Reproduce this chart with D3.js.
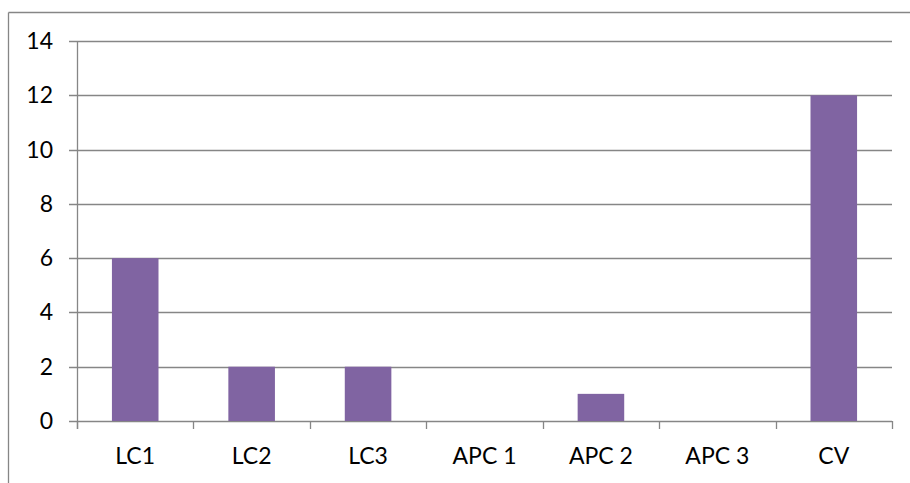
<!DOCTYPE html>
<html>
<head>
<meta charset="utf-8">
<script src="https://cdn.jsdelivr.net/npm/d3@7"></script>
<style>
  body { margin: 0; background: #fff; overflow: hidden; }
  svg { display: block; }
  svg text { font-family: Lato, "Open Sans", sans-serif; font-size: 23px; fill: #000; }
</style>
</head>
<body>
<div id="chart"></div>
<script>
const categories = ["LC1", "LC2", "LC3", "APC 1", "APC 2", "APC 3", "CV"];
const values = [6, 2, 2, 0, 1, 0, 12];
const yTicks = [0, 2, 4, 6, 8, 10, 12, 14];

const width = 910;
const height = 483;
const margin = {top: 41, right: 18, bottom: 62, left: 77};
const gridColor = "#868686";

const svg = d3.select("#chart")
  .append("svg")
  .attr("width", width)
  .attr("height", height);

// outer frame: only top and left edges are visible
svg.append("line")
  .attr("x1", 8.5).attr("x2", width)
  .attr("y1", 12.5).attr("y2", 12.5)
  .attr("stroke", gridColor)
  .attr("stroke-width", 1.3);
svg.append("line")
  .attr("x1", 8.5).attr("x2", 8.5)
  .attr("y1", 12.5).attr("y2", height)
  .attr("stroke", gridColor)
  .attr("stroke-width", 1.3);

const innerWidth = width - margin.left - margin.right;
const innerHeight = height - margin.top - margin.bottom;

const g = svg.append("g")
  .attr("transform", `translate(${margin.left},${margin.top})`);

const x = d3.scaleBand().domain(categories).range([0, innerWidth]).paddingInner(0.6).paddingOuter(0.3);
const xCat = d3.scaleBand().domain(categories).range([0, innerWidth]);
const y = d3.scaleLinear().domain([0, 14]).range([innerHeight, 0]);

// gridlines + y ticks
g.selectAll(".grid")
  .data(yTicks)
  .enter().append("line")
  .attr("x1", -8)
  .attr("x2", innerWidth)
  .attr("y1", d => Math.round(y(d)) + 0.5)
  .attr("y2", d => Math.round(y(d)) + 0.5)
  .attr("stroke", gridColor)
  .attr("stroke-width", 1.3);

g.selectAll(".ylabel")
  .data(yTicks)
  .enter().append("text")
  .attr("x", -24)
  .attr("y", d => y(d) + 8)
  .attr("text-anchor", "end")
  .text(d => d);

// bars
g.selectAll(".bar")
  .data(values)
  .enter().append("rect")
  .attr("x", (d, i) => x(categories[i]))
  .attr("width", x.bandwidth())
  .attr("y", d => y(d))
  .attr("height", d => y(0) - y(d))
  .attr("fill", "#8064A2");

// y axis line
g.append("line")
  .attr("x1", 0.5).attr("x2", 0.5)
  .attr("y1", 0).attr("y2", innerHeight + 8)
  .attr("stroke", gridColor)
  .attr("stroke-width", 1.3);

// x ticks at category boundaries
const bounds = categories.map(c => xCat(c)).concat([innerWidth]);
g.selectAll(".xtick")
  .data(bounds)
  .enter().append("line")
  .attr("x1", d => Math.round(d) + 0.5)
  .attr("x2", d => Math.round(d) + 0.5)
  .attr("y1", innerHeight)
  .attr("y2", innerHeight + 8)
  .attr("stroke", gridColor)
  .attr("stroke-width", 1.3);

g.selectAll(".xlabel")
  .data(categories)
  .enter().append("text")
  .attr("x", d => xCat(d) + xCat.bandwidth() / 2)
  .attr("y", innerHeight + 43)
  .attr("text-anchor", "middle")
  .text(d => d);
</script>
</body>
</html>
